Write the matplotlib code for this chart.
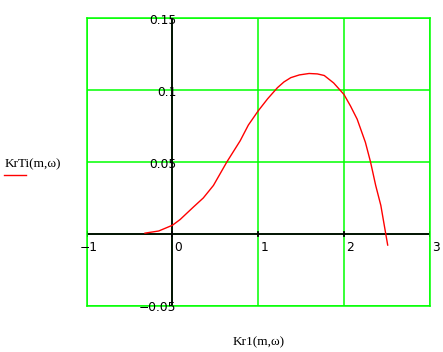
import numpy as np
import matplotlib
matplotlib.use("Agg")
import matplotlib.pyplot as plt

# curve values
kr1 = [-0.32, -0.16, 0.0, 0.09, 0.17, 0.245, 0.36, 0.478, 0.634, 0.79, 0.885,
       1.0, 1.11, 1.224, 1.30, 1.38, 1.48, 1.594, 1.69, 1.77, 1.88, 2.0,
       2.076, 2.154, 2.25, 2.31, 2.37, 2.43, 2.47, 2.51]
krti = [0.0005, 0.002, 0.006, 0.010, 0.0145, 0.0187, 0.025, 0.0337, 0.050,
        0.0648, 0.0757, 0.0856, 0.094, 0.1017, 0.1057, 0.1087, 0.1106, 0.1116,
        0.1113, 0.1102, 0.105, 0.097, 0.089, 0.0798, 0.0637, 0.050, 0.0337,
        0.0198, 0.006, -0.0078]

xticks = [-1, 0, 1, 2, 3]
yticks = [-0.05, 0.05, 0.1, 0.15]
ytick_labels = ["\u22120.05", "0.05", "0.1", "0.15"]
xtick_labels = ["\u22121", "0", "1", "2", "3"]

green = "#00ff00"

fig = plt.figure(figsize=(4.43, 3.52), dpi=100)
ax = fig.add_axes([0.1957, 0.1315, 0.7743, 0.8165])
ax.set_xlim(-1, 3)
ax.set_ylim(-0.05, 0.15)

for x in xticks:
    ax.axvline(x, color=green, lw=1.1, zorder=1)
for y in [-0.05, 0, 0.05, 0.1, 0.15]:
    ax.axhline(y, color=green, lw=1.1, zorder=1)
for s in ax.spines.values():
    s.set_color(green)
    s.set_linewidth(1.1)

# axes through the origin
ax.axhline(0, color="black", lw=1.3, zorder=2)
ax.axvline(0, color="black", lw=1.3, zorder=2)
for x in xticks:
    ax.plot([x, x], [-0.0012, 0.0012], color="black", lw=1.3, zorder=2)

ax.set_xticks([])
ax.set_yticks([])

ax.plot(kr1, krti, color="red", lw=1, zorder=3)

# tick labels next to the axes
for x, lab in zip(xticks, xtick_labels):
    dx = -5 if lab.startswith("\u2212") else 1.5
    ax.annotate(lab, (x, 0), xytext=(dx, -5), textcoords="offset points",
                ha="left", va="top", fontsize=8.8, family="DejaVu Sans")
for y, lab in zip(yticks, ytick_labels):
    ax.annotate(lab, (0, y), xytext=(3, -1.5), textcoords="offset points",
                ha="right", va="center", fontsize=8.8, family="DejaVu Sans")

fig.text(5 / 443, 1 - 167 / 352, "KrTi(m,\u03c9)", fontsize=9.5,
         family="Liberation Serif", ha="left", va="baseline")
fig.add_artist(plt.Line2D([4 / 443, 26 / 443], [1 - 175 / 352, 1 - 175 / 352],
                          color="red", lw=1))
fig.text(259 / 443, 1 - 342 / 352, "Kr1(m,\u03c9)", fontsize=9.5,
         family="Liberation Serif", ha="center", va="center")

fig.savefig("out.png", dpi=100)
